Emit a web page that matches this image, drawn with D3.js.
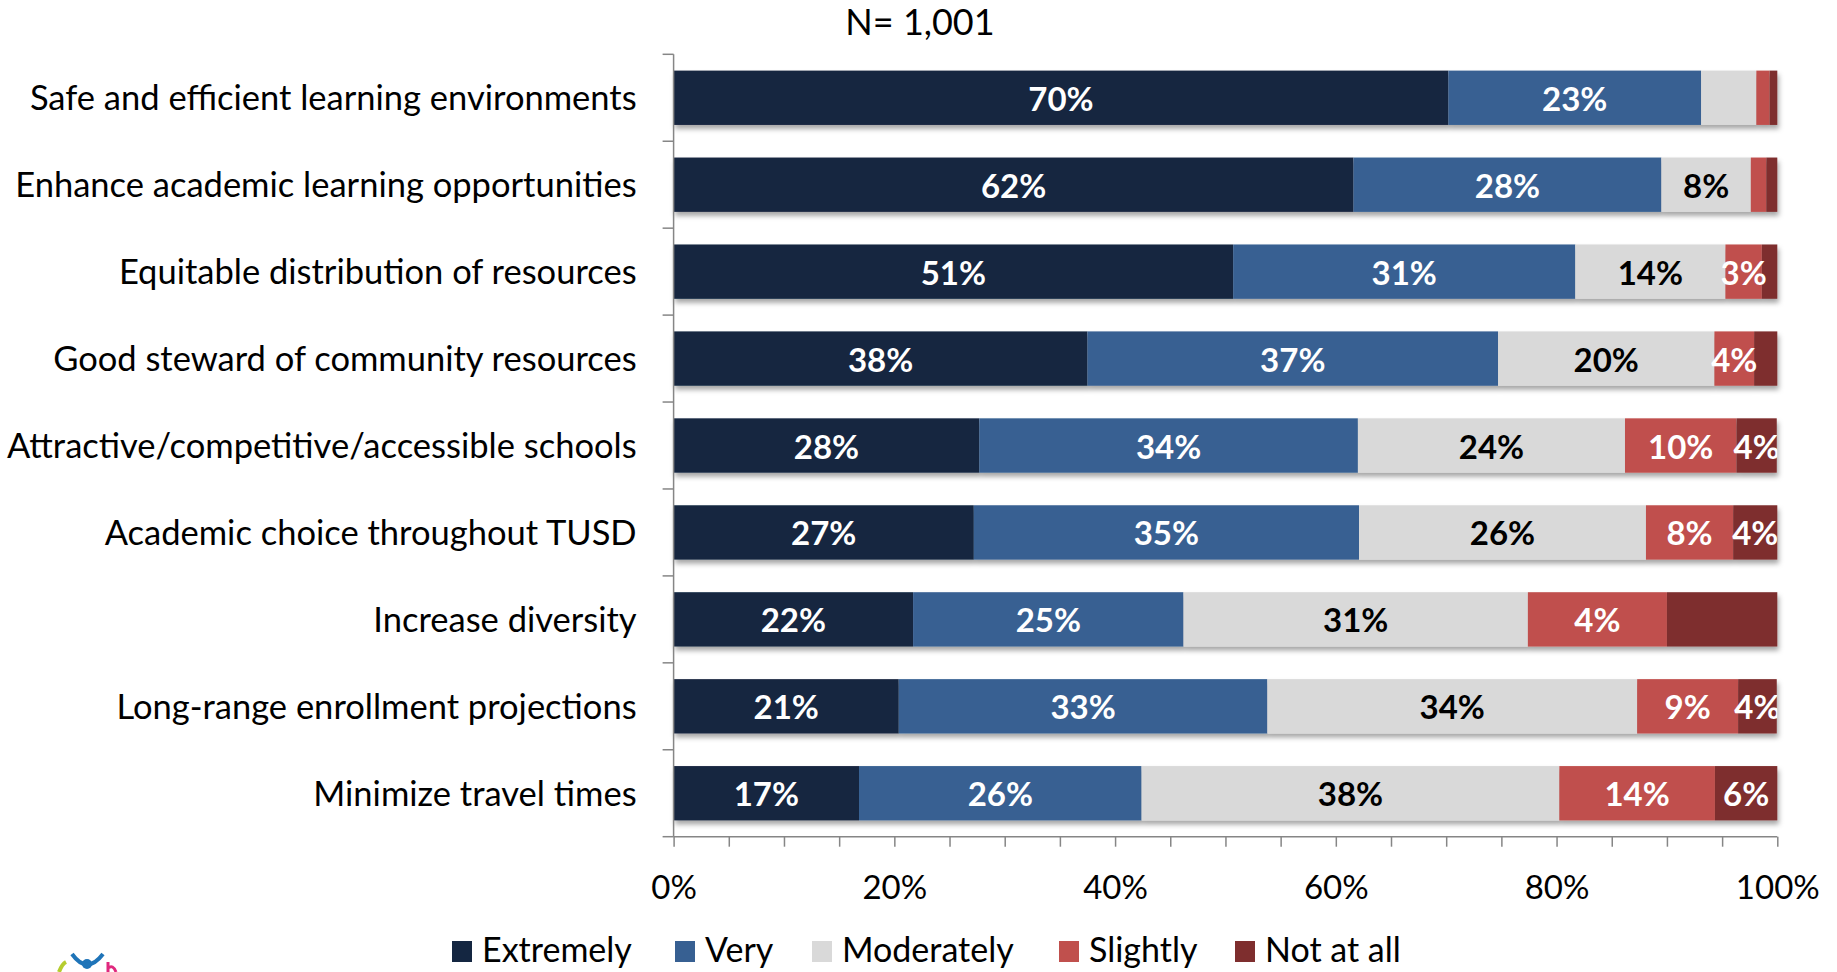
<!DOCTYPE html>
<html>
<head>
<meta charset="utf-8">
<script src="https://cdn.jsdelivr.net/npm/d3@7"></script>
<style>
  html, body { margin: 0; padding: 0; background: #fff; }
  svg { display: block; }
  text { font-family: Lato, "Open Sans", sans-serif; }
</style>
</head>
<body>
<script>
// ---------------- data ----------------
const categories = [
  "Safe and efficient learning environments",
  "Enhance academic learning opportunities",
  "Equitable distribution of resources",
  "Good steward of community resources",
  "Attractive/competitive/accessible schools",
  "Academic choice throughout TUSD",
  "Increase diversity",
  "Long-range enrollment projections",
  "Minimize travel times"
];
const seriesNames = ["Extremely", "Very", "Moderately", "Slightly", "Not at all"];
const extremely  = [70.2, 61.6, 50.7, 37.5, 27.7, 27.2, 21.7, 20.4, 16.8];
const very       = [22.9, 27.9, 31.0, 37.2, 34.3, 34.9, 24.5, 33.4, 25.6];
const moderately = [5.0, 8.1, 13.6, 19.6, 24.2, 26.0, 31.2, 33.5, 37.85];
const slightly   = [1.2, 1.4, 3.3, 3.6, 10.1, 7.9, 12.6, 9.15, 14.1];
const notAtAll   = [0.7, 1.0, 1.4, 2.1, 3.65, 4.0, 10.0, 3.5, 5.65];

const extremelyLabels  = ["70%","62%","51%","38%","28%","27%","22%","21%","17%"];
const veryLabels       = ["23%","28%","31%","37%","34%","35%","25%","33%","26%"];
const moderatelyLabels = ["","8%","14%","20%","24%","26%","31%","34%","38%"];
const slightlyLabels   = ["","","3%","4%","10%","8%","4%","9%","14%"];
const notAtAllLabels   = ["","","","","4%","4%","","4%","6%"];

const xTickValues = [0, 20, 40, 60, 80, 100];
const xMinorTicks = [0,5,10,15,20,25,30,35,40,45,50,55,60,65,70,75,80,85,90,95,100];
const titleText = "N= 1,001";

// ---------------- setup ----------------
const W = 1837, H = 972;
const colors = ["#142641", "#376092", "#d9d9d9", "#c0504d", "#7e2e2e"];
const labelColors = ["#ffffff", "#ffffff", "#000000", "#ffffff", "#ffffff"];
const seriesValues = [extremely, very, moderately, slightly, notAtAll];
const seriesLabels = [extremelyLabels, veryLabels, moderatelyLabels, slightlyLabels, notAtAllLabels];

const plot = { left: 673.6, right: 1777.3, top: 54.3, bottom: 836.7 };

const svg = d3.select("body").append("svg").attr("width", W).attr("height", H);

const defs = svg.append("defs");
const f = defs.append("filter").attr("id", "shadow")
  .attr("x", "-5%").attr("y", "-30%").attr("width", "110%").attr("height", "170%");
f.append("feDropShadow").attr("dx", 1.5).attr("dy", 4).attr("stdDeviation", 2.5)
  .attr("flood-color", "#000").attr("flood-opacity", 0.35);
defs.append("clipPath").attr("id", "plotclip").append("rect")
  .attr("x", plot.left).attr("y", plot.top - 5)
  .attr("width", plot.right - plot.left).attr("height", plot.bottom - plot.top + 10);

const x = d3.scaleLinear().domain([0, 100]).range([plot.left, plot.right]);
const y = d3.scaleBand().domain(categories).range([plot.top, plot.bottom]).paddingInner(0.375).paddingOuter(0.1875);

// stacked data
const rows = categories.map((c, i) => {
  const r = { cat: c };
  seriesNames.forEach((s, k) => r[s] = seriesValues[k][i]);
  return r;
});
const stack = d3.stack().keys(seriesNames)(rows);

// bars
const barsG = svg.append("g");
categories.forEach((c, i) => {
  const g = barsG.append("g").attr("filter", "url(#shadow)");
  stack.forEach((layer, k) => {
    const d = layer[i];
    g.append("rect")
      .attr("x", x(d[0]))
      .attr("y", y(c))
      .attr("width", Math.max(0, x(d[1]) - x(d[0])))
      .attr("height", y.bandwidth())
      .attr("fill", colors[k]);
  });
});

// labels
const labG = svg.append("g").attr("clip-path", "url(#plotclip)");
stack.forEach((layer, k) => {
  layer.forEach((d, i) => {
    const t = seriesLabels[k][i];
    if (!t) return;
    labG.append("text")
      .attr("x", x((d[0] + d[1]) / 2))
      .attr("y", y(categories[i]) + y.bandwidth() / 2 + 13)
      .attr("text-anchor", "middle")
      .attr("font-size", 33)
      .attr("font-weight", 700)
      .attr("fill", labelColors[k])
      .text(t);
  });
});

// axes
const axisColor = "#868686";
const xAxis = svg.append("g").attr("transform", `translate(0,${plot.bottom})`)
  .call(d3.axisBottom(x).tickValues(xMinorTicks).tickSize(10).tickFormat(""));
xAxis.select(".domain").attr("stroke", axisColor).attr("stroke-width", 1.5)
  .attr("d", `M${plot.left},0H${plot.right}`);
xAxis.selectAll(".tick line").attr("stroke", axisColor).attr("stroke-width", 1.5);

const xLabels = svg.append("g").attr("transform", `translate(0,${plot.bottom})`)
  .call(d3.axisBottom(x).tickValues(xTickValues).tickSize(0).tickPadding(0)
    .tickFormat(d => d + "%"));
xLabels.select(".domain").remove();
xLabels.selectAll(".tick text").attr("font-size", 33).attr("fill", "#000")
  .attr("dy", null).attr("y", 62).style("font-family", "Lato, sans-serif");

// y axis: ticks at band boundaries
const boundaries = d3.range(categories.length + 1).map(i => plot.top + i * (plot.bottom - plot.top) / categories.length);
const yAxisG = svg.append("g");
yAxisG.append("line").attr("x1", plot.left).attr("x2", plot.left)
  .attr("y1", plot.top).attr("y2", plot.bottom)
  .attr("stroke", axisColor).attr("stroke-width", 1.5);
yAxisG.selectAll("line.yt").data(boundaries).join("line").attr("class", "yt")
  .attr("x1", plot.left - 11).attr("x2", plot.left)
  .attr("y1", d => d).attr("y2", d => d)
  .attr("stroke", axisColor).attr("stroke-width", 1.5);

const yLabels = svg.append("g").attr("transform", `translate(${plot.left},0)`)
  .call(d3.axisLeft(y).tickSize(0).tickPadding(37));
yLabels.select(".domain").remove();
yLabels.selectAll(".tick text").attr("font-size", 34.5).attr("fill", "#000")
  .attr("dy", "0.36em").style("font-family", "Lato, sans-serif");

// title
svg.append("text").attr("x", 920).attr("y", 35).attr("text-anchor", "middle")
  .attr("font-size", 36).attr("fill", "#000").text(titleText);

// legend
const legendX = [452, 675, 812, 1059, 1235];
const lg = svg.append("g");
seriesNames.forEach((s, k) => {
  lg.append("rect").attr("x", legendX[k]).attr("y", 941).attr("width", 20).attr("height", 21)
    .attr("fill", colors[k]);
  lg.append("text").attr("x", legendX[k] + 30).attr("y", 962)
    .attr("font-size", 34).attr("fill", "#000").text(s);
});

// small logo fragment at bottom-left
const logo = svg.append("g");
logo.append("circle").attr("cx", 87).attr("cy", 964).attr("r", 5).attr("fill", "#1f74b8");
logo.append("path").attr("d", "M72,954 Q87,975 103,954").attr("fill", "none")
  .attr("stroke", "#1f74b8").attr("stroke-width", 4);
logo.append("path").attr("d", "M59,972 Q62,964 66,962").attr("fill", "none")
  .attr("stroke", "#b5cc2e").attr("stroke-width", 4);
logo.append("path").attr("d", "M108,962 L108,972 M108,968 Q113,964 116,972").attr("fill", "none")
  .attr("stroke", "#e0287e").attr("stroke-width", 3);
</script>
</body>
</html>
